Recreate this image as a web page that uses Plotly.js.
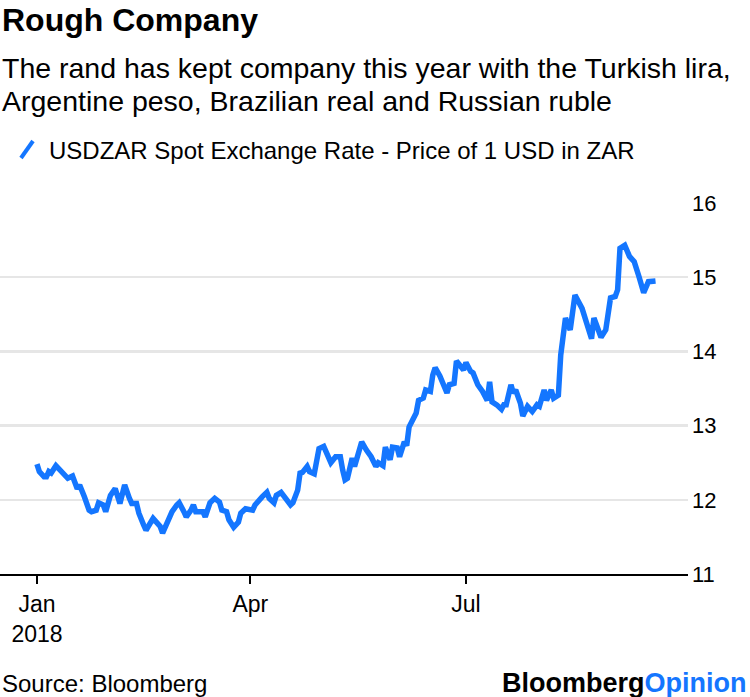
<!DOCTYPE html>
<html>
<head>
<meta charset="utf-8">
<script src="https://cdn.plot.ly/plotly-3.0.1.min.js"></script>
<style>html,body{margin:0;padding:0;background:#fff;}#chart{width:750px;height:697px;}</style>
</head>
<body>
<div id="chart"></div>
<script>
const dates = [
"2018-01-01","2018-01-02","2018-01-04","2018-01-05","2018-01-06","2018-01-07","2018-01-09","2018-01-11","2018-01-13","2018-01-14",
"2018-01-16","2018-01-17","2018-01-18","2018-01-19","2018-01-20","2018-01-21","2018-01-23","2018-01-24","2018-01-26","2018-01-27",
"2018-01-29","2018-01-30","2018-02-01","2018-02-03","2018-02-05","2018-02-06","2018-02-07","2018-02-09","2018-02-10","2018-02-12",
"2018-02-13","2018-02-15","2018-02-16","2018-02-19","2018-02-21","2018-02-22","2018-02-23","2018-02-25","2018-02-27","2018-03-01",
"2018-03-02","2018-03-04","2018-03-05","2018-03-07","2018-03-08","2018-03-09","2018-03-12","2018-03-13","2018-03-15","2018-03-17",
"2018-03-19","2018-03-20","2018-03-22","2018-03-23","2018-03-25","2018-03-27","2018-03-28","2018-03-30","2018-04-02","2018-04-03",
"2018-04-05","2018-04-06","2018-04-08","2018-04-09","2018-04-11","2018-04-12","2018-04-14","2018-04-16","2018-04-18","2018-04-19",
"2018-04-21","2018-04-22","2018-04-23","2018-04-25","2018-04-26","2018-04-28","2018-04-29","2018-04-30","2018-05-02","2018-05-04",
"2018-05-05","2018-05-07","2018-05-09","2018-05-10","2018-05-11","2018-05-12","2018-05-14","2018-05-15","2018-05-17","2018-05-18",
"2018-05-20","2018-05-22","2018-05-24","2018-05-25","2018-05-27","2018-05-28","2018-05-30","2018-05-31","2018-06-02","2018-06-03",
"2018-06-05","2018-06-06","2018-06-07","2018-06-09","2018-06-10","2018-06-11","2018-06-13","2018-06-14","2018-06-16","2018-06-17",
"2018-06-18","2018-06-20","2018-06-21","2018-06-23","2018-06-24","2018-06-26","2018-06-27","2018-06-29","2018-06-30","2018-07-01",
"2018-07-03","2018-07-04","2018-07-06","2018-07-08","2018-07-10","2018-07-11","2018-07-12","2018-07-14","2018-07-16","2018-07-17",
"2018-07-18","2018-07-20","2018-07-21","2018-07-22","2018-07-24","2018-07-25","2018-07-27","2018-07-29","2018-07-31","2018-08-01",
"2018-08-03","2018-08-04","2018-08-06","2018-08-07","2018-08-09","2018-08-10","2018-08-12","2018-08-14","2018-08-16","2018-08-19",
"2018-08-21","2018-08-23","2018-08-24","2018-08-27","2018-08-29","2018-08-31","2018-09-02","2018-09-03","2018-09-04","2018-09-06",
"2018-09-08","2018-09-10","2018-09-12","2018-09-14","2018-09-16","2018-09-19"
];
const usdzar = [
12.48,12.38,12.31,12.31,12.38,12.36,12.46,12.39,12.33,12.29,
12.32,12.23,12.15,12.20,12.13,12.04,11.86,11.84,11.86,11.96,
11.93,11.84,12.06,12.15,11.95,12.11,12.20,12.02,11.95,11.95,
11.82,11.66,11.59,11.75,11.66,11.64,11.55,11.69,11.84,11.93,
11.96,11.84,11.77,11.86,11.93,11.84,11.84,11.77,11.96,12.02,
11.97,11.86,11.84,11.73,11.63,11.70,11.82,11.88,11.86,11.93,
12.02,12.04,12.10,12.02,11.96,12.06,12.10,12.02,11.93,11.96,
12.13,12.36,12.37,12.45,12.38,12.35,12.51,12.69,12.72,12.56,
12.50,12.58,12.58,12.40,12.27,12.29,12.56,12.45,12.67,12.78,
12.67,12.58,12.45,12.50,12.46,12.71,12.54,12.71,12.70,12.58,
12.78,12.73,12.98,13.10,13.17,13.34,13.37,13.48,13.46,13.68,
13.78,13.67,13.59,13.44,13.55,13.57,13.87,13.78,13.75,13.85,
13.73,13.71,13.55,13.46,13.34,13.59,13.32,13.28,13.22,13.28,
13.28,13.55,13.44,13.48,13.30,13.13,13.26,13.19,13.28,13.26,
13.48,13.34,13.48,13.37,13.41,13.95,14.45,14.29,14.76,14.58,
14.38,14.17,14.45,14.19,14.29,14.72,14.74,14.83,15.39,15.43,
15.28,15.21,15.01,14.79,14.94,14.95
];
const xTickVals = ["2018-01-01","2018-04-01","2018-07-01"];
const xTickText = ["Jan<br>2018","Apr","Jul"];
const yTickVals = [11,12,13,14,15,16];
const seriesName = "USDZAR Spot Exchange Rate - Price of 1 USD in ZAR";
const titleText = "Rough Company";
const subtitleLines = ["The rand has kept company this year with the Turkish lira,", "Argentine peso, Brazilian real and Russian ruble"];
const sourceText = "Source: Bloomberg";

const W = 750, H = 697;
const mL = 0, mR = 62, mT = 203, mB = 123;
const plotH = H - mT - mB;
const plotW = W - mL - mR;
function py(p){ return (H - mB - p) / plotH; }
function px(p){ return (p - mL) / plotW; }

const FONT = "Liberation Sans, Arial, sans-serif";
const BLUE = "#1476ff";

const trace = {
  x: dates, y: usdzar, type: "scatter", mode: "lines",
  line: {color: BLUE, width: 5.5}, name: seriesName, hoverinfo: "skip"
};

function txt(text, x, y, xanchor, size, extra){
  return Object.assign({text: text, xref: "paper", yref: "paper", x: px(x), y: py(y),
    xanchor: xanchor, yanchor: "middle", showarrow: false, align: "left",
    font: {family: FONT, size: size, color: "#000"}}, extra || {});
}

const layout = {
  width: W, height: H,
  margin: {l: mL, r: mR, t: mT, b: mB, pad: 0},
  paper_bgcolor: "#fff", plot_bgcolor: "#fff",
  showlegend: false,
  font: {family: FONT, color: "#000", size: 22},
  xaxis: {
    type: "date",
    range: ["2017-12-16 09:36", "2018-10-02 16:48"],
    tickvals: xTickVals, ticktext: xTickText,
    showgrid: false, zeroline: false,
    showline: true, linecolor: "#000", linewidth: 2,
    ticks: "outside", ticklen: 8, tickwidth: 2, tickcolor: "#000",
    tickfont: {family: FONT, size: 23, color: "#000"},
    fixedrange: true
  },
  yaxis: {
    side: "right",
    range: [11, 16],
    tickvals: yTickVals,
    showgrid: true, gridcolor: "#e6e6e6", gridwidth: 2.5,
    zeroline: false, showline: false, ticks: "",
    tickfont: {family: FONT, size: 22, color: "#000"},
    ticklabelstandoff: 3,
    fixedrange: true
  },
  annotations: [
    txt("<b>" + titleText + "</b>", 0, 20, "left", 32),
    txt(subtitleLines[0], 0, 68, "left", 28.5),
    txt(subtitleLines[1], 0, 101, "left", 28.5),
    txt(seriesName, 47, 150, "left", 24),
    txt(sourceText, 0, 683, "left", 24),
    txt("<b>Bloomberg<span style='color:" + BLUE + "'>Opinion</span></b>", 749, 683, "right", 27)
  ],
  shapes: [
    {type: "line", xref: "paper", yref: "paper", x0: px(21), y0: py(158), x1: px(33), y1: py(141),
     line: {color: BLUE, width: 4}}
  ]
};

Plotly.newPlot("chart", [trace], layout, {displayModeBar: false, staticPlot: true});
</script>
</body>
</html>
